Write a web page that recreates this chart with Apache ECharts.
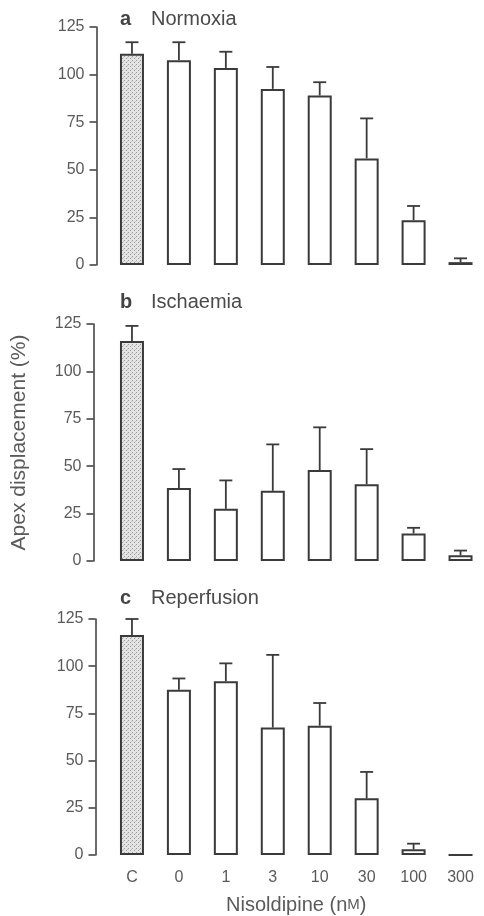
<!DOCTYPE html>
<html lang="en">

<head>
    <meta charset="UTF-8">
    <script src="https://cdn.jsdelivr.net/npm/echarts@6/dist/echarts.min.js"></script>
    <title>Nisoldipine</title>
    <style>
        html, body { margin: 0; padding: 0; background: #fff; }
        #chart { width: 484px; height: 916px; }
    </style>
</head>

<body>
    <div id="chart"></div>

    <script>
        // categories (C = control, then nisoldipine nM)
        var categories = ['C', '0', '1', '3', '10', '30', '100', '300'];
        var yTicks = [0, 25, 50, 75, 100, 125];

        // a Normoxia
        var normoxiaMean = [111, 107.5, 103.5, 92.5, 89, 56, 23.5, 1.5];
        var normoxiaErr = [6, 9.5, 8.5, 11.5, 7, 21, 7.5, 2];
        // b Ischaemia
        var ischaemiaMean = [116, 38.5, 27.5, 37, 48, 40.5, 14.5, 3];
        var ischaemiaErr = [8, 10, 15, 24.5, 22.5, 18.5, 3, 2.5];
        // c Reperfusion
        var reperfusionMean = [116.5, 87.5, 92, 67.5, 68.5, 30, 3, 0];
        var reperfusionErr = [8.5, 6, 9.5, 38.5, 12, 14, 3, 0];

        var panels = [
            { letter: 'a', name: 'Normoxia', mean: normoxiaMean, err: normoxiaErr },
            { letter: 'b', name: 'Ischaemia', mean: ischaemiaMean, err: ischaemiaErr },
            { letter: 'c', name: 'Reperfusion', mean: reperfusionMean, err: reperfusionErr }
        ];

        // layout of the three panels (top and bottom of the plot area, y axis offset, title centre)
        var boxes = [
            { top: 27, bottom: 265, offset: 12, titleY: 20 },
            { top: 324, bottom: 561, offset: 15, titleY: 303 },
            { top: 619, bottom: 857, offset: 13, titleY: 599 }
        ];

        var lineColor = '#3a3a3a';
        var textColor = '#5a5a5a';
        var font = 'Liberation Sans, Arial, sans-serif';

        // stippled fill for the control bar
        var dots = document.createElement('canvas');
        dots.width = 4;
        dots.height = 4;
        var ctx = dots.getContext('2d');
        ctx.fillStyle = '#e4e4e4';
        ctx.fillRect(0, 0, 4, 4);
        ctx.fillStyle = '#9a9a9a';
        ctx.fillRect(0, 0, 1, 1);
        ctx.fillRect(2, 2, 1, 1);
        ctx.fillStyle = '#c0c0c0';
        ctx.fillRect(3, 1, 1, 1);
        var stipple = { image: dots, repeat: 'repeat' };

        var grid = [], xAxis = [], yAxis = [], series = [], graphic = [];

        panels.forEach(function (p, i) {
            var b = boxes[i];
            grid.push({ left: 108.5, right: -3, top: b.top, height: b.bottom - b.top });
            xAxis.push({
                type: 'category',
                gridIndex: i,
                data: categories,
                axisLine: { show: false },
                axisTick: { show: false },
                axisLabel: {
                    show: i === 2,
                    color: textColor,
                    fontFamily: font,
                    fontSize: 16,
                    margin: 15
                },
                name: i === 2 ? 'Nisoldipine (n{sc|M})' : '',
                nameLocation: 'middle',
                nameGap: 40,
                nameTextStyle: {
                    color: textColor,
                    fontFamily: font,
                    fontSize: 20,
                    rich: { sc: { fontSize: 15, fontFamily: font, color: textColor } }
                }
            });
            yAxis.push({
                type: 'value',
                gridIndex: i,
                min: 0,
                max: 125,
                interval: 25,
                offset: b.offset,
                axisLine: { show: true, lineStyle: { color: lineColor, width: 1.5 } },
                axisTick: { show: true, inside: false, length: 7, lineStyle: { color: lineColor, width: 1.5 } },
                splitLine: { show: false },
                axisLabel: {
                    color: textColor,
                    fontFamily: font,
                    fontSize: 16,
                    margin: 12,
                    formatter: function (v) { return yTicks.indexOf(v) >= 0 ? String(v) : ''; }
                },
                name: i === 1 ? 'Apex displacement (%)' : '',
                nameLocation: 'middle',
                nameGap: 64,
                nameRotate: 90,
                nameTextStyle: { color: textColor, fontFamily: font, fontSize: 21 }
            });

            series.push({
                type: 'bar',
                xAxisIndex: i,
                yAxisIndex: i,
                barWidth: 24,
                data: p.mean.map(function (v, k) {
                    return {
                        value: v,
                        itemStyle: { color: k === 0 ? stipple : '#fff' }
                    };
                }),
                itemStyle: { borderColor: lineColor, borderWidth: 2 },
                silent: true
            });

            // upper error bars drawn from mean to mean + err
            series.push({
                type: 'custom',
                xAxisIndex: i,
                yAxisIndex: i,
                silent: true,
                z: 1,
                data: p.mean.map(function (v, k) { return [k, v, v + p.err[k]]; }),
                renderItem: function (params, api) {
                    var lo = api.coord([api.value(0), api.value(1)]);
                    var hi = api.coord([api.value(0), api.value(2)]);
                    if (hi[1] >= lo[1] - 0.5) return;
                    var style = { stroke: lineColor, lineWidth: 1.8 };
                    return {
                        type: 'group',
                        children: [
                            { type: 'line', shape: { x1: lo[0], y1: lo[1], x2: hi[0], y2: hi[1] }, style: style },
                            { type: 'line', shape: { x1: hi[0] - 6.5, y1: hi[1], x2: hi[0] + 6.5, y2: hi[1] }, style: style }
                        ]
                    };
                }
            });

            // panel letter and condition
            graphic.push({
                type: 'text',
                left: 120,
                top: b.titleY - 11,
                style: { text: p.letter, font: 'bold 20px ' + font, fill: '#444' }
            });
            graphic.push({
                type: 'text',
                left: 151,
                top: b.titleY - 11,
                style: { text: p.name, font: '20px ' + font, fill: '#4a4a4a' }
            });
        });

        var myChart = echarts.init(document.getElementById('chart'), null, { renderer: 'canvas' });
        myChart.setOption({
            animation: false,
            backgroundColor: '#fff',
            grid: grid,
            xAxis: xAxis,
            yAxis: yAxis,
            series: series,
            graphic: graphic
        });
    </script>

</body>

</html>
